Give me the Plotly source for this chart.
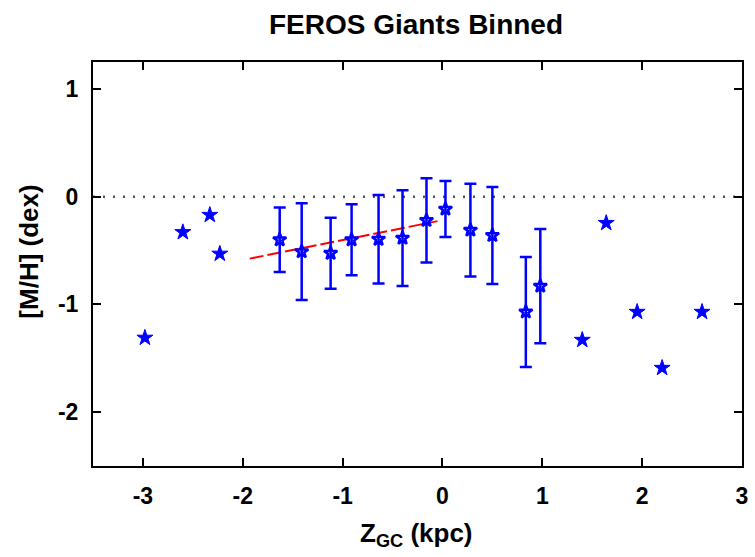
import plotly.graph_objects as go

# Individual giants (outside binned region)
single_z = [-2.98, -2.60, -2.33, -2.23, 1.40, 1.64, 1.95, 2.20, 2.60]
single_mh = [-1.31, -0.33, -0.17, -0.53, -1.33, -0.245, -1.07, -1.59, -1.07]

# Binned means with 1-sigma scatter
bin_z = [-1.63, -1.41, -1.12, -0.91, -0.64, -0.40, -0.16, 0.03, 0.28, 0.50, 0.835, 0.98]
bin_mh = [-0.40, -0.51, -0.525, -0.40, -0.395, -0.385, -0.22, -0.115, -0.31, -0.36, -1.07, -0.83]
bin_err = [0.30, 0.45, 0.33, 0.33, 0.41, 0.445, 0.39, 0.26, 0.43, 0.45, 0.51, 0.53]

# Linear fit over the inner bins
fit_z = [-1.93, -0.05]
fit_mh = [-0.575, -0.227]

# Axis ticks
x_ticks = [-3, -2, -1, 0, 1, 2, 3]
y_ticks = [-2, -1, 0, 1]

FONT = "Liberation Sans, Arial, sans-serif"
BLUE = "#0000ff"

fig = go.Figure()

# Solar-metallicity reference line
fig.add_trace(go.Scatter(
    x=[-3.5, 3.0], y=[0, 0], mode="lines",
    line=dict(color="#555555", width=2.5, dash="2px,8px"),
    hoverinfo="skip", showlegend=False,
))

fig.add_trace(go.Scatter(
    x=fit_z, y=fit_mh, mode="lines",
    line=dict(color="#ff0000", width=2, dash="14px,4px"),
    showlegend=False,
))

fig.add_trace(go.Scatter(
    x=bin_z, y=bin_mh, mode="markers",
    marker=dict(symbol="star-open", size=10, color=BLUE, line=dict(width=2.5, color=BLUE)),
    error_y=dict(type="data", array=bin_err, visible=True, color=BLUE, thickness=2.5, width=6),
    showlegend=False,
))

fig.add_trace(go.Scatter(
    x=single_z, y=single_mh, mode="markers",
    marker=dict(symbol="star", size=12, color=BLUE, line=dict(width=1, color=BLUE)),
    showlegend=False,
))

axis_common = dict(
    showline=True, linecolor="black", linewidth=2, mirror="ticks",
    ticks="inside", ticklen=8, tickwidth=2, tickcolor="black",
    showgrid=False, zeroline=False,
    tickfont=dict(family=FONT, size=23, color="black"),
)

fig.update_xaxes(
    range=[-3.5, 3.0], tickvals=x_ticks,
    ticktext=[f"<b>{v}</b>" for v in x_ticks],
    ticklabelstandoff=8,
    **axis_common,
)
fig.update_yaxes(
    range=[-2.5, 1.25], tickvals=y_ticks,
    ticktext=[f"<b>{v}</b>" for v in y_ticks],
    ticklabelstandoff=8,
    **axis_common,
)

title_font = dict(family=FONT, size=26, color="black")
fig.add_annotation(
    text="<b>Z<sub>GC</sub> (kpc)</b>", xref="paper", yref="paper",
    x=0.499, y=-0.124, xanchor="center", yanchor="top",
    showarrow=False, font=title_font,
)
fig.add_annotation(
    text="<b>[M/H] (dex)</b>", xref="paper", yref="paper",
    x=-0.099, y=0.53, xanchor="center", yanchor="middle", textangle=-90,
    showarrow=False, font=title_font,
)

fig.update_layout(
    width=755, height=557,
    margin=dict(l=93, r=7, t=62, b=91),
    paper_bgcolor="white", plot_bgcolor="white",
    title=dict(text="<b>FEROS Giants Binned</b>", x=0.551, xanchor="center",
               y=0.957, yanchor="middle",
               font=dict(family=FONT, size=28, color="black")),
)

fig.write_html("out.html")
